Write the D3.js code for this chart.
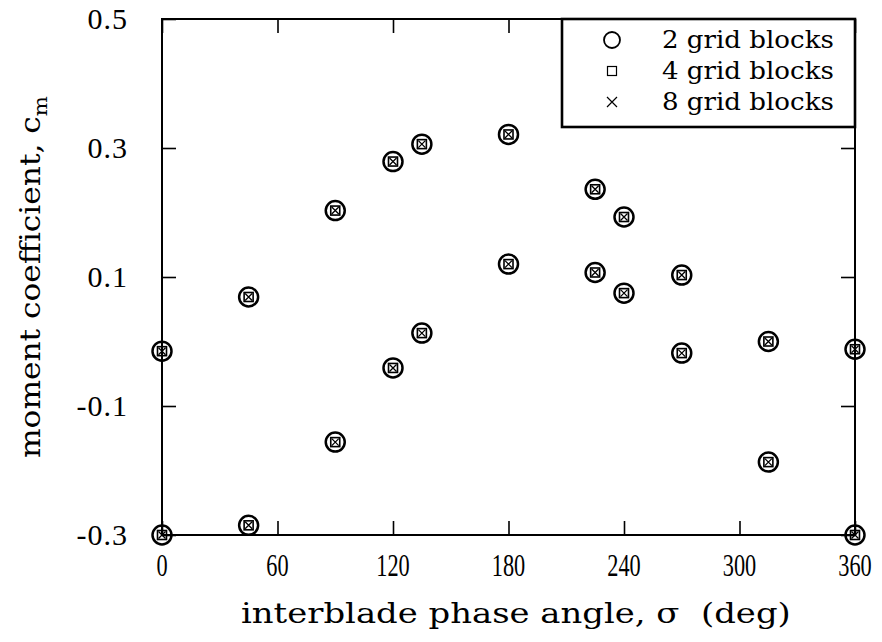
<!DOCTYPE html>
<html>
<head>
<meta charset="utf-8">
<script src="https://cdn.jsdelivr.net/npm/d3@7"></script>
<style>
  html, body { margin: 0; padding: 0; background: #fff; }
  svg { display: block; }
</style>
</head>
<body>
<svg id="chart" width="882" height="642"></svg>
<script>
// Interblade phase angle (deg) and moment coefficient for each grid-block count
const phaseAngles = [0, 0, 45, 45, 90, 90, 120, 120, 135, 135, 180, 180, 225, 225, 240, 240, 270, 270, 315, 315, 360, 360];
const cm2Blocks = [-0.015, -0.300, 0.069, -0.285, 0.203, -0.156, 0.279, -0.041, 0.306, 0.013, 0.321, 0.120, 0.236, 0.107, 0.193, 0.075, 0.103, -0.018, 0.000, -0.187, -0.012, -0.300];
const cm4Blocks = cm2Blocks.slice();
const cm8Blocks = cm2Blocks.slice();

const xTicks = [0, 60, 120, 180, 240, 300, 360];
const yTicks = [-0.3, -0.1, 0.1, 0.3, 0.5];
const yTickLabels = ["-0.3", "-0.1", "0.1", "0.3", "0.5"];
const seriesNames = ["2 grid blocks", "4 grid blocks", "8 grid blocks"];

const svg = d3.select("#chart");
const plotLeft = 162, plotRight = 855, plotTop = 19, plotBottom = 535;

const x = d3.scaleLinear().domain([0, 360]).range([plotLeft, plotRight]);
const y = d3.scaleLinear().domain([-0.3, 0.5]).range([plotBottom, plotTop]);

const serif = "'Liberation Serif', 'Times New Roman', serif";
const century = "'DejaVu Serif', serif";

// Squeeze or stretch a text horizontally so it spans the given width
function fitWidth(sel, width, tx, ty, rotate) {
  const w = sel.node().getComputedTextLength();
  const k = width / w;
  sel.attr("x", 0).attr("y", 0)
    .attr("transform", `translate(${tx},${ty})${rotate ? " rotate(" + rotate + ")" : ""} scale(${k},1)`);
}

// Axes with inward ticks on all four sides
const tickLen = 14;
svg.append("g").attr("transform", `translate(0,${plotBottom})`)
  .call(d3.axisBottom(x).tickValues(xTicks).tickSize(-tickLen).tickFormat(""));
svg.append("g").attr("transform", `translate(0,${plotTop})`)
  .call(d3.axisTop(x).tickValues(xTicks).tickSize(-tickLen).tickFormat(""));
svg.append("g").attr("transform", `translate(${plotLeft},0)`)
  .call(d3.axisLeft(y).tickValues(yTicks).tickSize(-tickLen).tickFormat(""));
svg.append("g").attr("transform", `translate(${plotRight},0)`)
  .call(d3.axisRight(y).tickValues(yTicks).tickSize(-tickLen).tickFormat(""));
svg.selectAll(".domain").remove();
svg.selectAll(".tick line").attr("stroke", "#000").attr("stroke-width", 1.6);

// Frame
svg.append("rect")
  .attr("x", plotLeft).attr("y", plotTop)
  .attr("width", plotRight - plotLeft).attr("height", plotBottom - plotTop)
  .attr("fill", "none").attr("stroke", "#000").attr("stroke-width", 2);

// Tick labels
svg.append("g").selectAll("text").data(xTicks).join("text")
  .attr("transform", d => `translate(${x(d)},576) scale(0.72,1)`)
  .attr("text-anchor", "middle")
  .attr("font-family", serif).attr("font-size", 31)
  .text(d => d);

svg.append("g").selectAll("text").data(yTicks).join("text")
  .attr("x", 128).attr("y", d => y(d) + 10)
  .attr("text-anchor", "end")
  .attr("font-family", serif).attr("font-size", 30)
  .attr("letter-spacing", 1)
  .text((d, i) => yTickLabels[i]);

// Axis titles
const xTitle = svg.append("text")
  .attr("font-family", century).attr("font-size", 27)
  .text("interblade phase angle, σ\u00a0 (deg)");
fitWidth(xTitle, 550, 241, 623);

const yTitle = svg.append("text")
  .attr("font-family", century).attr("font-size", 28);
yTitle.append("tspan").text("moment coefficient, c");
yTitle.append("tspan").attr("dy", 7).attr("font-size", 19).text("m");
fitWidth(yTitle, 362, 40, 458, -90);

// Marker drawing helpers
function circleMark(g, r, sw) {
  g.append("circle").attr("r", r).attr("fill", "none").attr("stroke", "#000").attr("stroke-width", sw);
}
function squareMark(g, s, sw) {
  g.append("rect").attr("x", -s / 2).attr("y", -s / 2).attr("width", s).attr("height", s)
    .attr("fill", "none").attr("stroke", "#000").attr("stroke-width", sw);
}
function crossMark(g, s, sw) {
  g.append("path").attr("d", `M${-s / 2},${-s / 2}L${s / 2},${s / 2}M${-s / 2},${s / 2}L${s / 2},${-s / 2}`)
    .attr("fill", "none").attr("stroke", "#000").attr("stroke-width", sw);
}

const points = svg.append("g");
phaseAngles.forEach((a, i) => {
  points.append("g").attr("transform", `translate(${x(a)},${y(cm2Blocks[i])})`).call(g => circleMark(g, 9.5, 2.5));
  points.append("g").attr("transform", `translate(${x(a)},${y(cm4Blocks[i])})`).call(g => squareMark(g, 9, 1.6));
  points.append("g").attr("transform", `translate(${x(a)},${y(cm8Blocks[i])})`).call(g => crossMark(g, 7, 1.3));
});

// Legend
const legend = svg.append("g");
legend.append("rect")
  .attr("x", 562).attr("y", plotTop).attr("width", plotRight - 562).attr("height", 127 - plotTop)
  .attr("fill", "#fff").attr("stroke", "#000").attr("stroke-width", 2.6);
const legendY = [40, 71, 102];
const legendMarks = [
  g => circleMark(g, 8, 1.8),
  g => squareMark(g, 9, 1.2),
  g => crossMark(g, 10, 1.2)
];
seriesNames.forEach((name, i) => {
  legend.append("g").attr("transform", `translate(612,${legendY[i]})`).call(legendMarks[i]);
  const t = legend.append("text")
    .attr("font-family", century).attr("font-size", 24)
    .text(name);
  fitWidth(t, 172, 662, legendY[i] + 8);
});
</script>
</body>
</html>
